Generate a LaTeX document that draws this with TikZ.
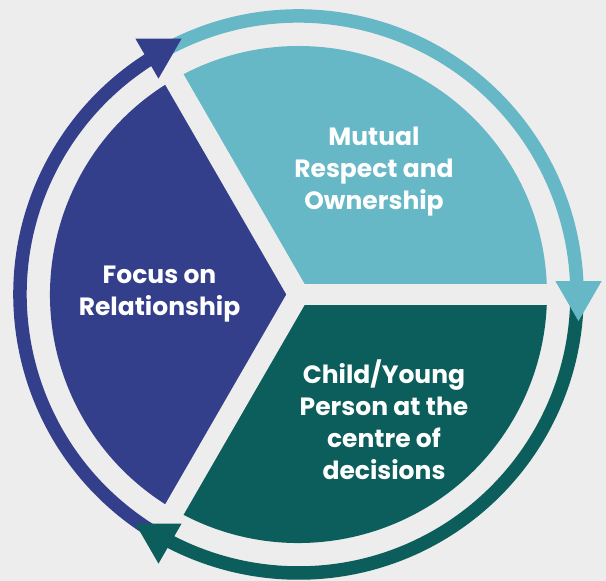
\documentclass[tikz,border=0pt]{standalone}
\usepackage{fontspec}
\setmainfont{Poppins}
\definecolor{bg}{HTML}{EDEDED}
\definecolor{cblue}{HTML}{343F8C}
\definecolor{clight}{HTML}{66B8C7}
\definecolor{cdark}{HTML}{0B5E5C}
\begin{document}
\begin{tikzpicture}[x=1pt,y=1pt,
  lbl/.style={text=white, align=center, inner sep=0pt,
    font=\fontsize{25}{32}\selectfont\bfseries},
  ring/.style={line width=13.5pt},
  gap/.style={draw=bg, line width=21pt}]
\fill[bg] (0,0) rectangle (606,581);
\useasboundingbox (0,0) rectangle (606,581);
\coordinate (C) at (298.5,286.5);
% sectors
\fill[cblue] (C) -- ++(120:248.5) arc[start angle=120,end angle=240,radius=248.5] -- cycle;
\fill[clight] (C) -- ++(0:248.5) arc[start angle=0,end angle=120,radius=248.5] -- cycle;
\fill[cdark] (C) -- ++(240:248.5) arc[start angle=240,end angle=360,radius=248.5] -- cycle;
% gaps between sectors
\foreach \a in {0,120,240} \draw[gap] (C) -- ++(\a:262);
\fill[bg] (C) circle (11);
% outer ring arcs
\draw[ring, cblue] (C) ++(238:278.5) arc[start angle=238,end angle=120,radius=278.5];
\draw[ring, clight] (C) ++(118:278.5) arc[start angle=118,end angle=0,radius=278.5];
\draw[ring, cdark] (C) ++(-2:278.5) arc[start angle=-2,end angle=-120,radius=278.5];
% arrowheads
\foreach \ang/\col in {120/cblue, 0/clight, 240/cdark}{
  \fill[\col] (C) ++(\ang:280) ++(30:26.6) -- ++(180:46.1) -- ++(-60:46.1) -- cycle;
}
% labels
\node[lbl] (focus) at (159.5,287) {Focus on\\Relationship};
\node[lbl] (mutual) at (374,409.5) {Mutual\\Respect and\\Ownership};
\node[lbl] (child) at (384,161) {Child/Young\\Person at the\\centre of\\decisions};
\end{tikzpicture}
\end{document}
